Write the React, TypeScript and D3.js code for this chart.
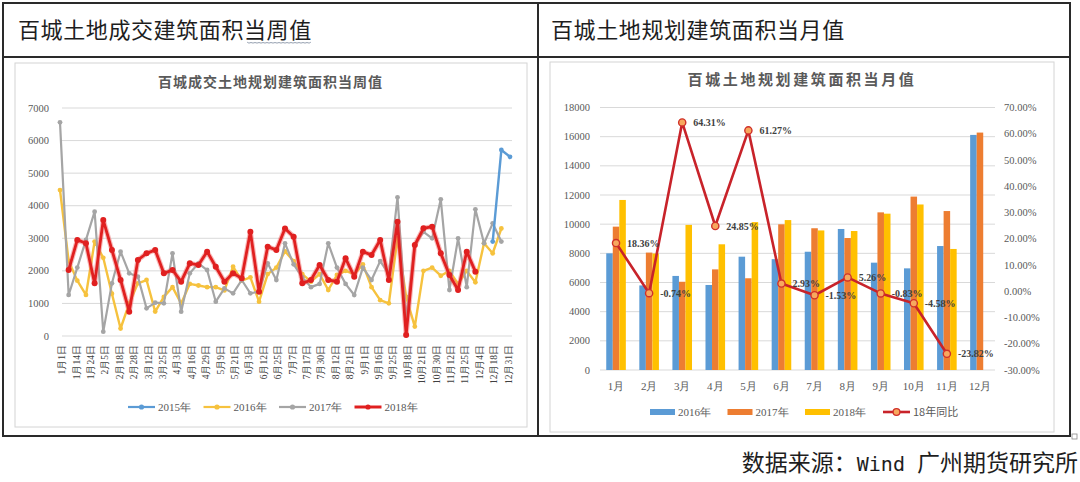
import React from 'react';
import * as d3 from 'd3';

// ---------- left chart data (weekly) ----------
const weekLabels = ['1月1日','1月14日','1月24日','2月5日','2月18日','2月28日','3月12日','3月25日','4月3日','4月16日','4月29日','5月9日','5月21日','6月3日','6月12日','6月25日','7月7日','7月17日','7月30日','8月12日','8月21日','9月1日','9月16日','9月25日','10月8日','10月21日','10月30日','11月12日','11月25日','12月4日','12月18日','12月31日'];
const weekCount = 53;
const yLeftTicks = [0, 1000, 2000, 3000, 4000, 5000, 6000, 7000];

const w2015Start = 50;
const w2015 = [2900, 5710, 5500];
const w2016Start = 0;
const w2016 = [4480,2300,1700,1260,2900,2400,1300,230,1000,1617,1719,750,1200,1500,1000,1600,1550,1500,1500,1400,2128,1700,1800,1054,1900,2100,2600,2300,1900,1668,1900,1412,1873,2000,1900,2200,1500,1100,1003,3000,1200,290,2000,2100,1850,2000,1600,2000,1650,2850,2540,3300];
const w2017Start = 0;
const w2017 = [6560,1260,2100,2950,3817,133,1617,2589,1924,1822,849,1023,1003,2538,747,1924,2231,2026,1054,1463,1310,1719,1310,1361,2231,1719,2845,2200,1800,1500,1600,2845,2100,1600,1258,2100,1719,2300,1900,4258,500,2800,3200,3000,4196,1412,2998,1500,3889,2845,3459,2900];
const w2018Start = 1;
const w2018 = [2026,2950,2846,1617,3560,2640,1720,747,2333,2538,2640,1924,2026,1668,2231,2180,2590,2128,1668,1924,1770,3200,1361,2743,2640,3300,3050,1617,1720,2180,1720,1668,2385,1822,2590,2487,2947,1720,3510,30,2794,3306,3357,2538,1873,1412,2590,1975];

// ---------- right chart data (monthly) ----------
const months = ['1月','2月','3月','4月','5月','6月','7月','8月','9月','10月','11月','12月'];
const m2016 = [8000,5800,6450,5830,7770,7600,8110,9670,7360,6970,8500,16120];
const m2017 = [9830,8050,6050,6900,6290,9990,9720,9050,10810,11890,10900,16280];
const m2018 = [11660,7990,9950,8620,10140,10280,9570,9530,10720,11350,8300,null];
const yoy18 = [18.36,-0.74,64.31,24.85,61.27,2.93,-1.53,5.26,-0.83,-4.58,-23.82];
const yRightLeftTicks = [0,2000,4000,6000,8000,10000,12000,14000,16000,18000];
const yRightRightTicks = [-30,-20,-10,0,10,20,30,40,50,60,70];

const FONT_CJK = '"Noto Sans CJK SC", "Noto Sans", sans-serif';
const FONT_NUM = '"Liberation Serif", "DejaVu Serif", serif';

const C_BLUE = '#5b9bd5';
const C_ORANGE = '#ed7d31';
const C_YELLOW = '#ffc000';
const C_GRAY = '#a5a5a5';
const C_RED = '#e02020';

type Pt = { i: number; v: number };
const toPts = (start: number, arr: number[]): Pt[] => arr.map((v, k) => ({ i: start + k, v }));

export default function App() {
  // ---------- left chart scales ----------
  const yL = d3.scaleLinear().domain([0, 7000]).range([336, 108]);
  const xL = d3.scaleLinear().domain([0, weekCount - 1]).range([60, 510]);
  const xLab = d3.scalePoint<string>().domain(weekLabels).range([61.7, 508]);
  const lineL = d3.line<Pt>().x(d => xL(d.i)).y(d => yL(d.v));

  const leftSeries = [
    { name: '2016年', color: '#f6c23e', pts: toPts(w2016Start, w2016), w: 2.4 },
    { name: '2017年', color: C_GRAY, pts: toPts(w2017Start, w2017), w: 2.2 },
    { name: '2018年', color: C_RED, pts: toPts(w2018Start, w2018), w: 2.8 },
    { name: '2015年', color: C_BLUE, pts: toPts(w2015Start, w2015), w: 2.4 },
  ];
  const legendLeft = [
    { name: '2015年', color: C_BLUE },
    { name: '2016年', color: '#f6c23e' },
    { name: '2017年', color: C_GRAY },
    { name: '2018年', color: C_RED },
  ];

  // ---------- right chart scales ----------
  const yR = d3.scaleLinear().domain([0, 18000]).range([370, 107.5]);
  const yP = d3.scaleLinear().domain([-30, 70]).range([370, 107.5]);
  const xR = d3.scaleBand<string>().domain(months).range([599.5, 996.5]).padding(0);
  const sub = d3.scaleBand<string>().domain(['2016', '2017', '2018']).range([-9.8, 9.8]).padding(0);
  const centerR = (m: string) => (xR(m) as number) + xR.bandwidth() / 2;
  const yoyPts = yoy18.map((v, k) => ({ m: months[k], v }));
  const lineR = d3.line<{ m: string; v: number }>().x(d => centerR(d.m)).y(d => yP(d.v));
  const barSeries = [
    { key: '2016', color: C_BLUE, vals: m2016 },
    { key: '2017', color: C_ORANGE, vals: m2017 },
    { key: '2018', color: C_YELLOW, vals: m2018 },
  ];
  const legendRight = [
    { name: '2016年', color: C_BLUE },
    { name: '2017年', color: C_ORANGE },
    { name: '2018年', color: C_YELLOW },
  ];

  // wavy spell-check underline under the header's last three characters
  const wave = d3.range(0, 33).map(k => [247 + k * 2, 42 + (k % 2 === 0 ? 0 : 1.6)] as [number, number]);
  const waveLine = d3.line().curve(d3.curveBasis)(wave) || '';

  return (
    <div style={{ position: 'fixed', left: 0, top: 0, width: 1080, height: 482, background: '#fff' }}>
      <svg width={1080} height={482} viewBox="0 0 1080 482" style={{ display: 'block' }}>
        <rect x={0} y={0} width={1080} height={482} fill="#fff" />

        {/* table frame */}
        <g stroke="#2a2a2a" strokeWidth={2} fill="none">
          <rect x={3} y={3} width={1067} height={433} />
          <line x1={3} y1={57} x2={1070} y2={57} />
          <line x1={538} y1={3} x2={538} y2={436} />
        </g>
        <text x={18} y={37.5} fontFamily={FONT_CJK} fontSize={22} letterSpacing={0.6} fill="#1e1e1e">百城土地成交建筑面积当周值</text>
        <path d={waveLine} fill="none" stroke="#8a96a8" strokeWidth={0.9} />
        <text x={551} y={37.5} fontFamily={FONT_CJK} fontSize={22} letterSpacing={0.6} fill="#1e1e1e">百城土地规划建筑面积当月值</text>

        {/* ================= LEFT CHART ================= */}
        <rect x={15} y={63} width={512} height={364} fill="#fff" stroke="#d4d4d4" strokeWidth={1} />
        <text x={270.5} y={87} textAnchor="middle" fontFamily={FONT_CJK} fontSize={14} fontWeight="bold" letterSpacing={1} fill="#5a5a5a">百城成交土地规划建筑面积当周值</text>
        {yLeftTicks.map(t => (
          <g key={'gl' + t}>
            <line x1={62} x2={512} y1={yL(t)} y2={yL(t)} stroke="#d9d9d9" strokeWidth={1} />
            <text x={49} y={yL(t) + 3.5} textAnchor="end" fontFamily={FONT_NUM} fontSize={10.5} fill="#595959">{t}</text>
          </g>
        ))}
        {weekLabels.map(l => (
          <text key={'wl' + l} transform={`translate(${(xLab(l) as number) + 3.5},345) rotate(-90)`} textAnchor="end" fontFamily={FONT_NUM} fontSize={9.5} fill="#404040">{l}</text>
        ))}
        {leftSeries.map(s => (
          <g key={s.name}>
            {s.name === '2018年' && (
              <path d={lineL(s.pts) || ''} fill="none" stroke="#f06060" strokeOpacity={0.45} strokeWidth={5} strokeLinejoin="round" />
            )}
            <path d={lineL(s.pts) || ''} fill="none" stroke={s.color} strokeWidth={s.w} strokeLinejoin="round" />
            {s.pts.map(p => (
              <circle key={p.i} cx={xL(p.i)} cy={yL(p.v)} r={s.name === '2018年' ? 3 : 2.4} fill={s.color} />
            ))}
          </g>
        ))}
        {legendLeft.map((d, k) => {
          const x0 = 128 + k * 75.5;
          return (
            <g key={'ll' + d.name}>
              <line x1={x0} x2={x0 + 27} y1={407} y2={407} stroke={d.color} strokeWidth={d.name === '2018年' ? 3 : 2.2} />
              <circle cx={x0 + 13.5} cy={407} r={2.6} fill={d.color} />
              <text x={x0 + 30} y={411} fontFamily={FONT_NUM} fontSize={11} fill="#595959">{d.name}</text>
            </g>
          );
        })}

        {/* ================= RIGHT CHART ================= */}
        <rect x={550} y={62} width={504} height={370} fill="#fff" stroke="#d4d4d4" strokeWidth={1} />
        <text x={802} y={85} textAnchor="middle" fontFamily={FONT_CJK} fontSize={15} fontWeight="bold" letterSpacing={2.6} fill="#5a5a5a">百城土地规划建筑面积当月值</text>
        {yRightLeftTicks.map(t => (
          <g key={'gr' + t}>
            <line x1={600} x2={995} y1={yR(t)} y2={yR(t)} stroke="#d9d9d9" strokeWidth={1} />
            <text x={590} y={yR(t) + 3.5} textAnchor="end" fontFamily={FONT_NUM} fontSize={10.5} fill="#595959">{t}</text>
          </g>
        ))}
        {yRightRightTicks.map(t => (
          <text key={'pr' + t} x={1004} y={yP(t) + 3.5} fontFamily={FONT_NUM} fontSize={10.5} fill="#595959">{t.toFixed(2) + '%'}</text>
        ))}
        {barSeries.map(s => (
          <g key={'b' + s.key}>
            {s.vals.map((v, k) => v == null ? null : (
              <rect key={k} x={centerR(months[k]) + (sub(s.key) as number)} width={sub.bandwidth()} y={yR(v)} height={yR(0) - yR(v)} fill={s.color} />
            ))}
          </g>
        ))}
        {months.map(m => (
          <text key={'ml' + m} x={centerR(m)} y={390} textAnchor="middle" fontFamily={FONT_NUM} fontSize={11} fill="#595959">{m}</text>
        ))}
        <path d={lineR(yoyPts) || ''} fill="none" stroke="#c8232a" strokeWidth={2.6} strokeLinejoin="round" />
        {yoyPts.map(p => (
          <g key={'yp' + p.m}>
            <circle cx={centerR(p.m)} cy={yP(p.v)} r={3.6} fill="#f7a85e" stroke="#d0302a" strokeWidth={1.4} />
            <text x={centerR(p.m) + 11} y={yP(p.v) + 3.5} fontFamily={FONT_NUM} fontSize={10} fontWeight="bold" fill="#404040">{p.v.toFixed(2) + '%'}</text>
          </g>
        ))}
        {legendRight.map((d, k) => {
          const x0 = 650 + k * 77.5;
          return (
            <g key={'lr' + d.name}>
              <rect x={x0} y={409} width={25} height={6} fill={d.color} />
              <text x={x0 + 28} y={416} fontFamily={FONT_NUM} fontSize={11} fill="#595959">{d.name}</text>
            </g>
          );
        })}
        <g>
          <line x1={883} x2={910} y1={412} y2={412} stroke="#c8232a" strokeWidth={2.6} />
          <circle cx={896.5} cy={412} r={3.4} fill="#f7a85e" stroke="#d0302a" strokeWidth={1.3} />
          <text x={913} y={416} fontFamily={FONT_CJK} fontSize={11} fill="#595959">18年同比</text>
        </g>

        {/* source */}
        <rect x={1072} y={434} width={5} height={5} fill="#fff" stroke="#888" strokeWidth={0.8} />
        <text x={1078} y={471} textAnchor="end" fontFamily={FONT_CJK} fontSize={23} fill="#1e1e1e">
          数据来源：<tspan fontFamily='"DejaVu Sans Mono", "Liberation Mono", monospace' fontSize={20}>Wind </tspan>广州期货研究所
        </text>
      </svg>
    </div>
  );
}
